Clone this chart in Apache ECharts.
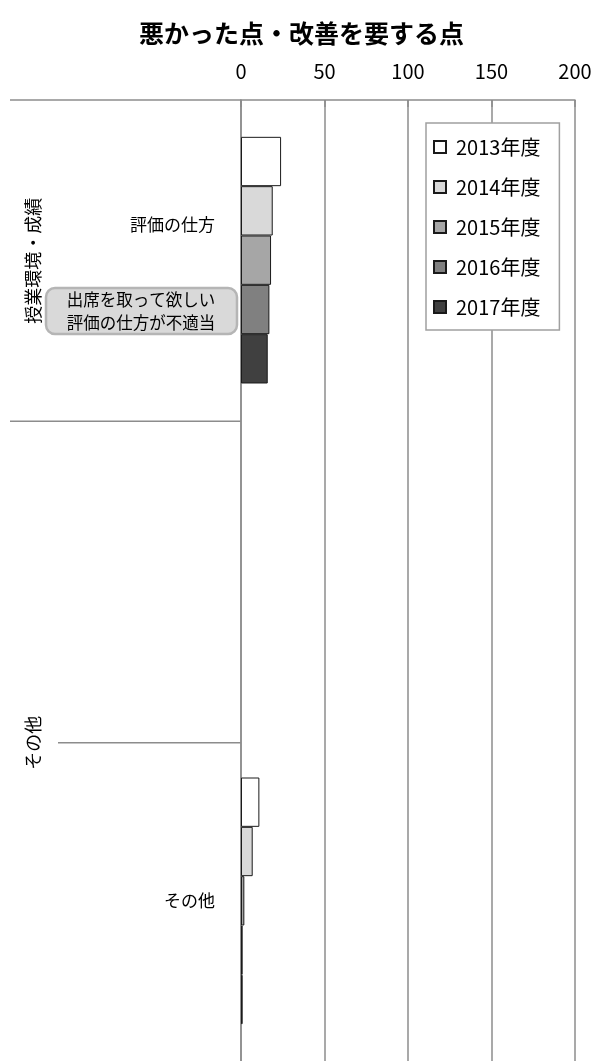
<!DOCTYPE html>
<html>
<head>
<meta charset="utf-8">
<script src="https://cdn.jsdelivr.net/npm/echarts@6/dist/echarts.min.js"></script>
<style>
html, body { margin: 0; padding: 0; background: #fff; }
#main { width: 603px; height: 1061px; }
</style>
</head>
<body>
<div id="main"></div>
<script>
// データ
var categories = ['評価の仕方', '', 'その他'];
var years = ['2013年度', '2014年度', '2015年度', '2016年度', '2017年度'];
var v2013 = [24, null, 11];
var v2014 = [19, null, 7];
var v2015 = [18, null, 2];
var v2016 = [17, null, 1];
var v2017 = [16, null, 1];
var xTicks = [0, 50, 100, 150, 200];
var groupNames = ['授業環境・成績', 'その他'];
var groupStart = [0, 1];
var groupEnd = [0, 2];
var calloutText = ['出席を取って欲しい', '評価の仕方が不適当'];

var colors = ['#ffffff', '#d9d9d9', '#a6a6a6', '#808080', '#404040'];
var seriesData = [v2013, v2014, v2015, v2016, v2017];
var font = '"Noto Sans CJK JP", sans-serif';

var gridTop = 100, gridLeft = 241, gridRight = 28, gridBottom = -3;
var bandH = (1061 - gridTop - gridBottom) / categories.length;

var myChart = echarts.init(document.getElementById('main'));

var series = [];
for (var i = 0; i < years.length; i++) {
    series.push({
        name: years[i],
        type: 'bar',
        barGap: 0,
        barCategoryGap: '23%',
        itemStyle: {
            color: colors[i],
            borderColor: '#1a1a1a',
            borderWidth: 1
        },
        data: seriesData[i]
    });
}

// 左側の区切り線・グループ名
var graphics = [];
var lineStyle = { stroke: '#8c8c8c', lineWidth: 1.5 };
for (var g = 0; g < groupNames.length; g++) {
    var y0 = gridTop + groupStart[g] * bandH;
    var y1 = gridTop + (groupEnd[g] + 1) * bandH;
    graphics.push({
        type: 'line', silent: true,
        shape: { x1: 10, y1: y0, x2: gridLeft, y2: y0 },
        style: lineStyle
    });
    for (var k = groupStart[g] + 1; k <= groupEnd[g]; k++) {
        var yy = gridTop + k * bandH;
        graphics.push({
            type: 'line', silent: true,
            shape: { x1: 58, y1: yy, x2: gridLeft, y2: yy },
            style: lineStyle
        });
    }
    graphics.push({
        type: 'text', silent: true,
        x: 33, y: (y0 + y1) / 2,
        rotation: Math.PI / 2,
        style: {
            text: groupNames[g],
            font: '18px ' + font,
            fill: '#000',
            align: 'center',
            verticalAlign: 'middle'
        }
    });
}
// 吹き出し
graphics.push({
    type: 'rect', silent: true,
    shape: { x: 46, y: 288, width: 191, height: 46, r: 9 },
    style: { fill: '#d9d9d9', stroke: '#b5b5b5', lineWidth: 2.5 }
});
graphics.push({
    type: 'text', silent: true,
    x: 141, y: 311,
    style: {
        text: calloutText.join('\n'),
        font: '16.5px ' + font,
        lineHeight: 23,
        fill: '#000',
        align: 'center',
        verticalAlign: 'middle'
    }
});

var option = {
    animation: false,
    title: {
        text: '悪かった点・改善を要する点',
        left: 'center',
        top: 16,
        textStyle: { fontSize: 25, fontWeight: 'bold', color: '#000', fontFamily: font }
    },
    legend: {
        orient: 'vertical',
        left: 426,
        top: 123,
        padding: [14, 19, 13, 7],
        itemGap: 20,
        itemWidth: 12,
        itemHeight: 12,
        icon: 'rect',
        borderColor: '#a0a0a0',
        borderWidth: 1.5,
        backgroundColor: '#fff',
        textStyle: { fontSize: 20, color: '#000', fontFamily: font, lineHeight: 20, padding: [0, 0, 0, 5] },
        data: years
    },
    grid: {
        left: gridLeft,
        right: gridRight,
        top: gridTop,
        bottom: gridBottom,
        containLabel: false
    },
    xAxis: {
        type: 'value',
        position: 'top',
        min: xTicks[0],
        max: xTicks[xTicks.length - 1],
        interval: xTicks[1] - xTicks[0],
        axisLine: { show: true, lineStyle: { color: '#8c8c8c', width: 1.5 } },
        axisTick: { show: true, inside: true, length: 7, lineStyle: { color: '#8c8c8c', width: 1.5 } },
        axisLabel: { fontSize: 20, color: '#000', fontFamily: font, margin: 19 },
        splitLine: { show: true, lineStyle: { color: '#8c8c8c', width: 1.5 } }
    },
    yAxis: {
        type: 'category',
        inverse: true,
        data: categories,
        axisLine: { show: true, lineStyle: { color: '#8c8c8c', width: 1.5 } },
        axisTick: { show: false },
        axisLabel: {
            fontSize: 17,
            color: '#000',
            fontFamily: font,
            margin: 26,
            formatter: function (v, idx) {
                return idx == 0 ? '{up|' + v + '}' : v;
            },
            rich: {
                up: { fontSize: 17, color: '#000', fontFamily: font, padding: [0, 0, 72, 0] }
            }
        }
    },
    graphic: graphics,
    series: series
};
myChart.setOption(option);
</script>
</body>
</html>
